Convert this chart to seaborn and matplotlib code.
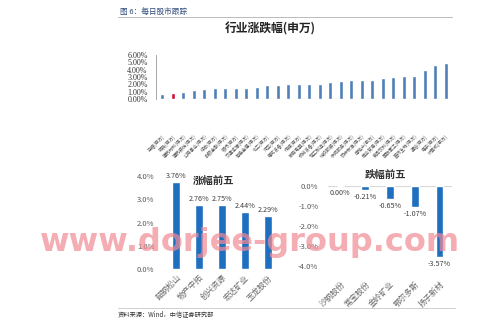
import matplotlib
matplotlib.use("Agg")
import matplotlib.pyplot as plt
import seaborn as sns
import pandas as pd
from matplotlib.lines import Line2D

sns.set_style("white")
plt.rcParams['font.family'] = ['Noto Sans CJK SC', 'DejaVu Sans']

# ---------------- data ----------------
industries = ["采掘", "钢铁", "建筑材料", "建筑装饰", "公用事业", "综合", "非银金融",
              "银行", "交通运输", "有色金属", "化工", "汽车", "电气设备", "传媒",
              "家用电器", "机械设备", "轻工制造", "纺织服装", "休闲服务", "农林牧渔",
              "房地产", "商业贸易", "食品饮料", "国防军工", "医药生物", "通信", "电子", "计算机"]
industry_labels = [s + "(申万)" for s in industries]
industry_changes = [0.64, 0.77, 0.90, 1.18, 1.32, 1.45, 1.45, 1.45, 1.55, 1.68, 1.90, 1.95,
                    1.98, 2.00, 2.00, 2.00, 2.30, 2.40, 2.55, 2.55, 2.60, 2.85, 2.95, 3.10,
                    3.10, 3.95, 4.60, 4.95]
highlight = "钢铁"

top_stocks = ["韶钢松山", "物产中拓", "创兴资源", "宏达矿业", "玉龙股份"]
top_changes = [3.76, 2.76, 2.75, 2.44, 2.29]

bottom_stocks = ["沙钢股份", "常宝股份", "金岭矿业", "鄂尔多斯", "扬子新材"]
bottom_changes = [0.00, -0.21, -0.65, -1.07, -3.57]

top_ticks = [0, 1, 2, 3, 4, 5, 6]
W, H = 500, 328

fig = plt.figure(figsize=(5.0, 3.28), dpi=100)

def rect(x0, y0, x1, y1):
    return [x0 / W, 1 - y1 / H, (x1 - x0) / W, (y1 - y0) / H]

# ---------------- header / footer ----------------
fig.text(120 / W, 1 - 12 / H, "图 6：每日股市跟踪", fontsize=5.5, color="#2e4a7a",
         va="center", ha="left")
fig.add_artist(Line2D([118 / W, 452 / W], [1 - 17 / H, 1 - 17 / H], color="#b0b0b0", lw=0.6))
fig.text(270 / W, 1 - 29 / H, "行业涨跌幅(申万)", fontsize=8.5, fontweight="bold",
         color="#222222", va="center", ha="center")
fig.add_artist(Line2D([118 / W, 455 / W], [1 - 308 / H, 1 - 308 / H], color="#c8c8c8", lw=0.6))
fig.text(118 / W, 1 - 314 / H, "资料来源：Wind，中信证券研究部", fontsize=4.5, color="#333333",
         va="center", ha="left")

# ---------------- top chart ----------------
ax1 = fig.add_axes(rect(156, 55, 451, 99))
df1 = pd.DataFrame({"ind": industry_labels, "chg": industry_changes})
pal = {lab: ("#d0103a" if lab.startswith(highlight) else "#4f7fb8") for lab in industry_labels}
sns.barplot(data=df1, x="ind", y="chg", hue="ind", palette=pal, legend=False,
            width=0.4, ax=ax1, saturation=1)
ax1.set_ylim(0, 6)
ax1.set_xlim(-0.6, len(industries) - 0.5)
ax1.set_yticks(top_ticks)
ax1.set_yticklabels([f"{t:.2f}%" for t in top_ticks], fontsize=5.8,
                    family=["Liberation Serif"], color="#333333")
ax1.set_xlabel("")
ax1.set_ylabel("")
for s in ["top", "right", "bottom"]:
    ax1.spines[s].set_visible(False)
ax1.spines["left"].set_color("#999999")
ax1.spines["left"].set_linewidth(0.6)
ax1.axhline(0, color="#f3dcb0", lw=0.8, zorder=0)
ax1.tick_params(axis="y", direction="in", length=2, width=0.5, color="#999999", pad=6)
ax1.tick_params(axis="x", length=0, pad=25)
ax1.set_xticks(range(len(industries)))
ax1.set_xticklabels(industry_labels, rotation=45, ha="right", rotation_mode="anchor",
                    fontsize=3.3, color="#555555")

# ---------------- bottom-left chart ----------------
ax2 = fig.add_axes(rect(160, 176, 284, 269))
df2 = pd.DataFrame({"name": top_stocks, "chg": top_changes})
sns.barplot(data=df2, x="name", y="chg", color="#1f6fc0", saturation=1, width=0.33, ax=ax2)
ax2.set_ylim(0, 4)
ax2.set_xlim(-0.7, 4.7)
ax2.set_yticks([0, 1, 2, 3, 4])
ax2.set_yticklabels([f"{v:.1f}%" for v in [0, 1, 2, 3, 4]], fontsize=5.5, color="#595959")
for s in ax2.spines.values():
    s.set_visible(False)
ax2.tick_params(length=0)
ax2.tick_params(axis="y", pad=4)
ax2.tick_params(axis="x", pad=3)
ax2.set_xlabel("")
ax2.set_ylabel("")
ax2.set_xticks(range(5))
ax2.set_xticklabels(top_stocks, rotation=45, ha="right", rotation_mode="anchor",
                    fontsize=5.8, color="#666666")
for i, v in enumerate(top_changes):
    ax2.text(i, v + 0.08, f"{v:.2f}%", ha="center", va="bottom", fontsize=5.2, color="#404040")
ax2.text(1.65, 3.8, "涨幅前五", ha="center", va="center", fontsize=7.5, fontweight="bold",
         color="#333333")

# ---------------- bottom-right chart ----------------
ax3 = fig.add_axes(rect(328, 186, 452, 266))
df3 = pd.DataFrame({"name": bottom_stocks, "chg": bottom_changes})
sns.barplot(data=df3, x="name", y="chg", color="#1f6fc0", saturation=1, width=0.3, ax=ax3)
ax3.set_ylim(-4, 0)
ax3.set_xlim(-0.5, 4.5)
ax3.set_yticks([0, -1, -2, -3, -4])
ax3.set_yticklabels([f"{v:.1f}%" for v in [0, -1, -2, -3, -4]], fontsize=5.5, color="#595959")
for s in ax3.spines.values():
    s.set_visible(False)
ax3.axhline(0, color="#d9d9d9", lw=0.8, zorder=0)
ax3.tick_params(length=0)
ax3.tick_params(axis="y", pad=7)
ax3.tick_params(axis="x", pad=10)
ax3.set_xlabel("")
ax3.set_ylabel("")
ax3.set_xticks(range(5))
ax3.set_xticklabels(bottom_stocks, rotation=45, ha="right", rotation_mode="anchor",
                    fontsize=5.8, color="#666666")
for i, v in enumerate(bottom_changes):
    ax3.text(i, v - 0.15, f"{v:.2f}%", ha="center", va="top", fontsize=5.2, color="#404040")
ax3.text(1.8, 0.55, "跌幅前五", ha="center", va="center", fontsize=7.5, fontweight="bold",
         color="#333333", clip_on=False)

# ---------------- watermark ----------------
fig.text(250 / W, 1 - 242 / H, "www.dorjee-group.com", ha="center", va="center",
         fontsize=23, fontweight="bold", color="#f28a94", alpha=0.7, zorder=10,
         family=["DejaVu Sans"])

fig.savefig("out.png", dpi=100)
